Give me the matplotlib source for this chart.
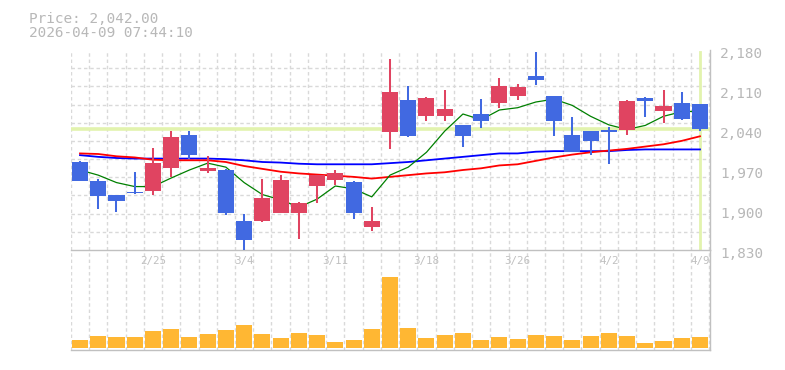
import matplotlib
matplotlib.use("Agg")
import matplotlib.pyplot as plt
import numpy as np
from matplotlib.transforms import ScaledTranslation

# ---------------- data ----------------
dates = ["2/18", "2/19", "2/20", "2/24", "2/25", "2/26", "2/27", "3/2", "3/3", "3/4",
         "3/5", "3/6", "3/9", "3/10", "3/11", "3/12", "3/13", "3/16", "3/17", "3/18",
         "3/19", "3/23", "3/24", "3/25", "3/26", "3/27", "3/30", "3/31", "4/1", "4/2",
         "4/3", "4/6", "4/7", "4/8", "4/9"]
open_ = [1984, 1951, 1926, 1931, 1934, 1974, 2031, 1969, 1970, 1881,
         1880, 1895, 1894, 1942, 1953, 1949, 1871, 2037, 2092, 2065,
         2065, 2049, 2068, 2088, 2100, 2134, 2099, 2031, 2038, 2040,
         2040, 2096, 2074, 2087, 2085]
close = [1951, 1925, 1916, 1929, 1982, 2028, 1997, 1973, 1894, 1848,
         1921, 1952, 1912, 1961, 1965, 1894, 1881, 2106, 2030, 2096,
         2077, 2030, 2056, 2117, 2115, 2128, 2055, 2002, 2021, 2037,
         2091, 2090, 2082, 2059, 2042]
high = [1985, 1954, 1927, 1966, 2009, 2039, 2039, 1994, 1972, 1893,
        1955, 1962, 1914, 1961, 1970, 1951, 1906, 2164, 2117, 2097,
        2110, 2049, 2094, 2131, 2121, 2177, 2100, 2063, 2038, 2045,
        2092, 2097, 2110, 2106, 2086]
low = [1950, 1902, 1896, 1928, 1926, 1957, 1990, 1965, 1892, 1829,
       1879, 1895, 1850, 1912, 1944, 1885, 1864, 2006, 2028, 2056,
       2056, 2011, 2044, 2079, 2092, 2119, 2030, 2002, 1997, 1981,
       2031, 2063, 2053, 2057, 2039]
ma_short = [1970, 1961, 1948, 1941, 1941, 1956, 1970, 1982, 1975, 1948,
            1927, 1918, 1905, 1919, 1942, 1937, 1923, 1961, 1975, 2001,
            2038, 2068, 2058, 2075, 2079, 2089, 2094, 2083, 2064, 2049,
            2041, 2048, 2064, 2072, 2073]
ma_mid = [1999, 1998, 1994, 1992, 1988, 1987, 1987, 1987, 1984, 1977,
          1972, 1967, 1964, 1962, 1960, 1958, 1955, 1958, 1961, 1964,
          1966, 1970, 1973, 1978, 1980, 1986, 1992, 1997, 2001, 2004,
          2007, 2011, 2015, 2021, 2029]
ma_long = [1996, 1993, 1991, 1990, 1990, 1990, 1990, 1990, 1989, 1987,
           1984, 1983, 1981, 1980, 1980, 1980, 1980, 1982, 1984, 1987,
           1990, 1993, 1996, 1999, 1999, 2002, 2003, 2003, 2003, 2003,
           2005, 2006, 2006, 2006, 2006]
volume = [16, 24, 22, 22, 34, 38, 22, 28, 36, 46,
          28, 20, 30, 26, 12, 16, 38, 143, 40, 20,
          26, 30, 16, 22, 18, 26, 24, 16, 24, 30,
          24, 10, 14, 20, 22]
label_dates = ["2/25", "3/4", "3/11", "3/18", "3/26", "4/2", "4/9"]
price_ticks = [1830, 1900, 1970, 2040, 2110, 2180]
timestamp = "2026-04-09 07:44:10"

# ---------------- style ----------------
UP = "#e04461"
DOWN = "#4169e1"
VOL = "#ffb733"
HL = "#e2f3ae"
GRID = "#d9d9d9"
SPINE = "#c0c0c0"
TXT = "#b8b8b8"
MONO = "DejaVu Sans Mono"

n = len(dates)
x = np.arange(n)
o = np.array(open_, float)
c = np.array(close, float)
h = np.array(high, float)
l = np.array(low, float)
up = c >= o
colors = [UP if u else DOWN for u in up]

W, H = 785, 370
fig = plt.figure(figsize=(W / 100, H / 100), dpi=100)
left, right = 70.9, 710
axv = fig.add_axes([left / W, 1 - 350 / H, (right - left) / W, 100 / H])
ax = fig.add_axes([left / W, 1 - 250 / H, (right - left) / W, 200 / H], sharex=axv)
ax.set_facecolor("none")
axv.set_facecolor("none")

# ---- price panel ----
ax.set_xlim(-0.5, n - 0.5 + 0.05)
ax.set_ylim(price_ticks[0], price_ticks[-1])

ax.axhline(c[-1], color=HL, lw=2.6, zorder=1.2)
ax.axvline(x[-1], ymax=0.99, color=HL, lw=2.0, zorder=1.2)

ax.plot(x, ma_long, color="#0000ff", lw=1.3, zorder=2)
ax.plot(x, ma_mid, color="#ff0000", lw=1.3, zorder=2)
ax.plot(x, ma_short, color="#008000", lw=0.9, zorder=2.1)

ax.vlines(x, l, h, colors=colors, lw=1.45, zorder=3)
body_h = np.maximum(np.abs(c - o), 1.2)
ax.bar(x, body_h, bottom=np.minimum(o, c), width=0.88, color=colors,
       linewidth=0, zorder=4)

ax.set_axisbelow(True)
ax.set_xticks(np.arange(-0.5, n, 1), minor=True)
ax.set_yticks(np.linspace(price_ticks[0], price_ticks[-1], 12), minor=True)
ax.grid(which="minor", color=GRID, lw=1.0, linestyle=(0, (2.5, 2.0)))
ax.grid(which="major", visible=False)

ax.yaxis.tick_right()
ax.set_yticks(price_ticks)
ax.set_yticklabels([f"{v:,}" for v in price_ticks], family=MONO, fontsize=10.4,
                   color=TXT)
ax.tick_params(axis="y", which="both", length=0, pad=7.2)
off = ScaledTranslation(0, -2.7 / 100, fig.dpi_scale_trans)
for lbl in ax.get_yticklabels():
    lbl.set_transform(lbl.get_transform() + off)

tick_idx = [dates.index(d) for d in label_dates]
ax.set_xticks(tick_idx)
ax.set_xticklabels(label_dates, family=MONO, fontsize=7.8, color="#c0c0c0")
ax.tick_params(axis="x", which="both", length=0, pad=4.5, labelbottom=True)

for s in ["top", "left"]:
    ax.spines[s].set_visible(False)
for s in ["bottom", "right"]:
    ax.spines[s].set_color(SPINE)
    ax.spines[s].set_linewidth(1.0)

# ---- volume panel ----
axv.bar(x, volume, width=0.88, color=VOL, linewidth=0, zorder=3)
axv.set_ylim(-4, 196)
axv.set_axisbelow(True)
axv.grid(which="minor", axis="x", color=GRID, lw=1.0, linestyle=(0, (2.5, 2.0)))
axv.grid(which="major", visible=False)
axv.set_yticks([])
axv.tick_params(axis="x", which="both", length=0, labelbottom=False)
for s in ["top", "left"]:
    axv.spines[s].set_visible(False)
for s in ["bottom", "right"]:
    axv.spines[s].set_color(SPINE)
    axv.spines[s].set_linewidth(1.0)

# ---- header ----
fig.text(29.3 / W, 1 - 22.7 / H, f"Price: {c[-1]:,.2f}", family=MONO,
         fontsize=10.4, color=TXT, va="baseline", ha="left")
fig.text(29.3 / W, 1 - 36.7 / H, timestamp, family=MONO,
         fontsize=10.4, color=TXT, va="baseline", ha="left")

fig.savefig("out.png", dpi=100)
